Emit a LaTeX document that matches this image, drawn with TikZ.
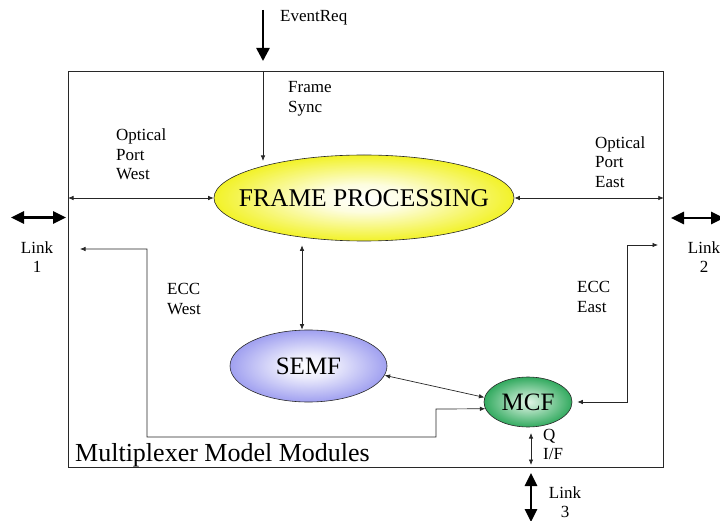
\documentclass[tikz,border=0pt]{standalone}
\usepackage{fontspec}
\setmainfont{Liberation Serif}
\usetikzlibrary{arrows.meta,shapes.geometric}
\definecolor{fpyellow}{RGB}{242,242,40}
\definecolor{semfblue}{RGB}{160,160,240}
\definecolor{mcfgreen}{RGB}{50,170,95}
\definecolor{mcfpale}{RGB}{225,245,230}
\definecolor{edge}{RGB}{40,40,40}
\pgfdeclareradialshading{fpshade}{\pgfpoint{0bp}{0bp}}{color(0bp)=(white); color(8bp)=(white!85!fpyellow); color(25bp)=(fpyellow); color(50bp)=(fpyellow)}
\pgfdeclareradialshading{semfshade}{\pgfpoint{0bp}{0bp}}{color(0bp)=(white); color(8bp)=(white!80!semfblue); color(25bp)=(semfblue); color(50bp)=(semfblue)}
\pgfdeclareradialshading{mcfshade}{\pgfpoint{0bp}{0bp}}{color(0bp)=(mcfpale); color(8bp)=(mcfpale!70!mcfgreen); color(25bp)=(mcfgreen); color(50bp)=(mcfgreen)}
\begin{document}
\begin{tikzpicture}[x=1pt,y=-1pt,
  lbl/.style={font=\fontsize{17}{19.5}\selectfont, inner sep=0pt, align=left, anchor=north west},
  lblc/.style={font=\fontsize{17}{19.5}\selectfont, inner sep=0pt, align=center, anchor=north},
  module/.style={ellipse, draw=edge, line width=0.6pt, inner sep=0pt},
  conn/.style={draw=black!85, line width=0.7pt},
  bothtip/.style={conn, {Latex[length=5.5pt,width=4.5pt]}-{Latex[length=5.5pt,width=4.5pt]}},
  onetip/.style={conn, -{Latex[length=5.5pt,width=4.5pt]}},
  bigarrow/.style={draw=black, line width=2.6pt, {Triangle[length=13pt,width=12pt]}-{Triangle[length=13pt,width=12pt]}},
  bigone/.style={draw=black, line width=2.6pt, -{Triangle[length=13pt,width=13pt]}}
]
\useasboundingbox (0,0) rectangle (720,521);

% outer box
\node[draw=edge, line width=0.8pt, minimum width=595pt, minimum height=396pt, inner sep=0pt, anchor=north west] (box) at (68,71) {};

% modules
\node[module, minimum width=300pt, minimum height=86pt, shading=fpshade,
      font=\fontsize{25.5}{30}\selectfont] (fp) at (364,198) {\makebox[0pt]{FRAME PROCESSING}};
\node[module, minimum width=157pt, minimum height=72pt, shading=semfshade,
      font=\fontsize{25}{30}\selectfont] (semf) at (308.5,366) {\makebox[0pt]{SEMF}};
\node[module, minimum width=88pt, minimum height=50pt, shading=mcfshade,
      font=\fontsize{25}{30}\selectfont] (mcf) at (528,402) {\makebox[0pt]{MCF}};

% named free ends
\coordinate (evtop) at (263,10);
\coordinate (evtip) at (263,61);
\coordinate (fsync) at (263,161);
\coordinate (vcol) at (302,0);
\coordinate (eccw) at (80,249);
\coordinate (ecce) at (658,245);
\coordinate (qtop) at (531,433);
\coordinate (qbot) at (531,465);
\coordinate (l1a) at (11,217.5);
\coordinate (l1b) at (66,217.5);
\coordinate (l2a) at (671,218);
\coordinate (l2b) at (724,218);
\coordinate (l3a) at (531,473);
\coordinate (l3b) at (531,522);

% big external arrows
\draw[bigone] (evtop) -- (evtip);
\draw[bigarrow] (l1a) -- (l1b);
\draw[bigarrow] (l2a) -- (l2b);
\draw[bigarrow] (l3a) -- (l3b);

% internal connectors
\draw[onetip] (box.north -| fsync) -- (fsync);
\draw[bothtip] (box.west |- fp.west) -- (fp.west);
\draw[bothtip] (fp.east) -- (box.east |- fp.east);
\draw[bothtip] ([yshift=-4pt]vcol |- fp.south) -- (vcol |- semf.north);
\draw[bothtip] (semf.-7.5) -- (mcf.174);
\draw[bothtip] (eccw) -- (147,249) -- (147,437) -- (436,437) -- (436,409) -- (mcf.189);
\draw[bothtip] ([xshift=5pt]mcf.east) -| (627,245) -- (ecce);
\draw[bothtip] (qtop) -- (qbot);

% labels
\node[lbl] (tev) at (280,10.5) {EventReq};
\node[lbl] (tfs) at (288,81.5) {Frame\\Sync};
\node[lbl] (topw) at (116,129) {Optical\\Port\\West};
\node[lbl] (tope) at (595,136.5) {Optical\\Port\\East};
\node[lblc] (tl1) at (37,241.5) {Link\\1};
\node[lblc] (tl2) at (704,241.5) {Link\\2};
\node[lbl] (teccw) at (167,283.5) {ECC\\West};
\node[lbl] (tecce) at (577,281.5) {ECC\\East};
\node[lbl] (tq) at (543,429) {Q\\I/F};
\node[lblc] (tl3) at (565,486.5) {Link\\3};
\node[inner sep=0pt, anchor=base west, font=\fontsize{26}{30}\selectfont] (tmm) at (75,461) {Multiplexer Model Modules};
\end{tikzpicture}
\end{document}
